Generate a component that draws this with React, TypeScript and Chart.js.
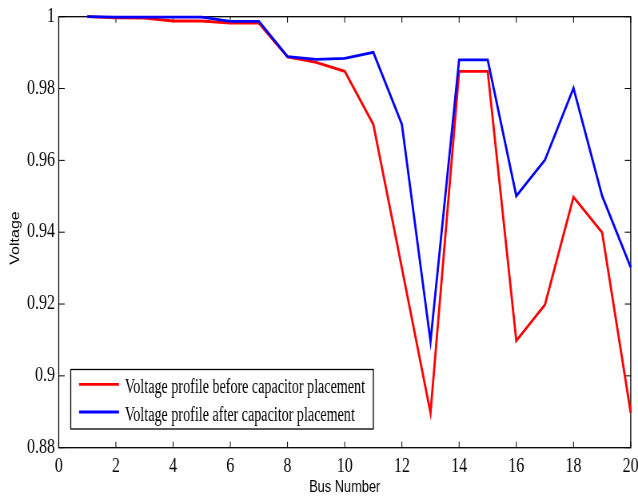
import { useEffect, useRef } from 'react';
import { Chart, registerables } from 'chart.js';

Chart.register(...registerables);

const busNumbers = [1, 2, 3, 4, 5, 6, 7, 8, 9, 10, 11, 12, 13, 14, 15, 16, 17, 18, 19, 20];
const voltageBefore = [1.0, 0.9997, 0.9996, 0.9988, 0.9988, 0.9982, 0.9982, 0.9888, 0.9873, 0.9848, 0.97, 0.93, 0.8897, 0.9848, 0.9848, 0.9098, 0.9198, 0.9498, 0.9399, 0.8897];
const voltageAfter = [1.0, 0.9999, 0.9999, 0.9999, 0.9999, 0.9987, 0.9987, 0.9889, 0.9881, 0.9884, 0.9901, 0.97, 0.9096, 0.988, 0.988, 0.9501, 0.9601, 0.9801, 0.9501, 0.9302];
const xTickLabels = ['0', '2', '4', '6', '8', '10', '12', '14', '16', '18', '20'];
const yTickLabels = ['0.88', '0.9', '0.92', '0.94', '0.96', '0.98', '1'];
const seriesNames = ['Voltage profile before capacitor placement', 'Voltage profile after capacitor placement'];
const seriesColors = ['#ff0000', '#0000ff'];
const xTitle = 'Bus Number';
const yTitle = 'Voltage';

// The chart is drawn on a wider bitmap and shown horizontally condensed, like the reference figure.
const VIEW_W = 638;
const VIEW_H = 497;
const CANVAS_W = 798;
const K = CANVAS_W / VIEW_W;

const framePlugin = {
  id: 'frame',
  beforeDatasetsDraw(chart: any) {
    const { ctx, chartArea: a, scales } = chart;
    ctx.save();
    ctx.strokeStyle = '#000';
    ctx.lineWidth = 1.3;
    ctx.strokeRect(a.left, a.top, a.right - a.left, a.bottom - a.top);
    const tl = 6;
    ctx.lineWidth = 1;
    ctx.beginPath();
    scales.x.ticks.forEach((t: any) => {
      const px = scales.x.getPixelForValue(t.value);
      ctx.moveTo(px, a.bottom);
      ctx.lineTo(px, a.bottom - tl);
      ctx.moveTo(px, a.top);
      ctx.lineTo(px, a.top + tl);
    });
    scales.y.ticks.forEach((t: any) => {
      const py = scales.y.getPixelForValue(t.value);
      ctx.moveTo(a.left, py);
      ctx.lineTo(a.left + tl * K, py);
      ctx.moveTo(a.right, py);
      ctx.lineTo(a.right - tl * K, py);
    });
    ctx.stroke();
    ctx.restore();
  },
  afterDatasetsDraw(chart: any) {
    const { ctx } = chart;
    // legend box
    const bx = 70.7 * K, by = 369.5, bw = 302.6 * K, bh = 59.5;
    ctx.save();
    ctx.fillStyle = '#fff';
    ctx.fillRect(bx, by, bw, bh);
    ctx.strokeStyle = '#000';
    ctx.lineWidth = 1.3;
    ctx.strokeRect(bx, by, bw, bh);
    ctx.font = '20px "Liberation Serif", serif';
    const w0 = ctx.measureText(seriesNames[0]).width;
    const sx = (240 * K) / w0;
    const rows = [384.3, 412];
    seriesNames.forEach((name, i) => {
      const y = rows[i];
      ctx.strokeStyle = seriesColors[i];
      ctx.lineWidth = 2.8;
      ctx.beginPath();
      ctx.moveTo(79 * K, y);
      ctx.lineTo(119 * K, y);
      ctx.stroke();
      ctx.save();
      ctx.translate(125 * K, y + 8.5);
      ctx.scale(sx, 1);
      ctx.fillStyle = '#000';
      ctx.textBaseline = 'alphabetic';
      ctx.textAlign = 'left';
      ctx.fillText(name, 0, 0);
      ctx.restore();
    });
    // y axis title
    ctx.save();
    ctx.translate(16 * K, 238);
    ctx.rotate(-Math.PI / 2);
    ctx.font = '16px "Liberation Sans", Arial, sans-serif';
    ctx.fillStyle = '#000';
    ctx.textAlign = 'center';
    ctx.textBaseline = 'middle';
    ctx.fillText(yTitle, 0, 0);
    ctx.restore();
    ctx.restore();
  },
};

export default function App() {
  const ref = useRef<HTMLCanvasElement>(null);
  useEffect(() => {
    document.body.style.margin = '0';
    const canvas = ref.current!;
    const tickFont = { family: '"Liberation Serif", serif', size: 20 };
    const titleFont = { family: '"Liberation Sans", Arial, sans-serif', size: 16 };
    const chart = new Chart(canvas, {
      type: 'line',
      data: {
        datasets: [
          {
            label: seriesNames[0],
            data: busNumbers.map((b, i) => ({ x: b, y: voltageBefore[i] })),
            borderColor: seriesColors[0],
            backgroundColor: seriesColors[0],
            borderWidth: 2.8,
            pointRadius: 0,
            tension: 0,
            clip: 6,
            order: 1,
          },
          {
            label: seriesNames[1],
            data: busNumbers.map((b, i) => ({ x: b, y: voltageAfter[i] })),
            borderColor: seriesColors[1],
            backgroundColor: seriesColors[1],
            borderWidth: 2.8,
            pointRadius: 0,
            tension: 0,
            clip: 6,
            order: 0,
          },
        ],
      },
      options: {
        responsive: false,
        animation: false,
        devicePixelRatio: 1,
        events: [],
        layout: { padding: { top: 16.7, right: CANVAS_W - 630.7 * K, left: 0, bottom: 0 } },
        plugins: { legend: { display: false }, tooltip: { enabled: false } },
        scales: {
          x: {
            type: 'linear',
            min: 0,
            max: 20,
            grid: { display: false, drawTicks: false },
            border: { display: false },
            ticks: {
              stepSize: 2,
              color: '#000',
              font: tickFont,
              padding: 7,
              maxRotation: 0,
              autoSkip: false,
              callback: (_v: any, i: number) => xTickLabels[i],
            },
            title: {
              display: true,
              text: xTitle,
              color: '#000',
              font: titleFont,
              padding: { top: 0, bottom: 0 },
            },
            afterFit: (s: any) => {
              s.height = 49.3;
              s.paddingLeft = 0;
              s.paddingRight = 0;
            },
          },
          y: {
            type: 'linear',
            min: 0.88,
            max: 1,
            grid: { display: false, drawTicks: false },
            border: { display: false },
            ticks: {
              stepSize: 0.02,
              color: '#000',
              font: tickFont,
              padding: 4.6,
              autoSkip: false,
              callback: (_v: any, i: number) => yTickLabels[i],
            },
            afterFit: (s: any) => {
              s.width = 58.7 * K;
              s.paddingTop = 0;
              s.paddingBottom = 0;
            },
          },
        },
      },
      plugins: [framePlugin],
    });
    return () => chart.destroy();
  }, []);
  return (
    <div style={{ width: VIEW_W, height: VIEW_H, overflow: 'hidden' }}>
      <canvas
        ref={ref}
        width={CANVAS_W}
        height={VIEW_H}
        style={{ display: 'block', width: VIEW_W + 'px', height: VIEW_H + 'px' }}
      />
    </div>
  );
}
